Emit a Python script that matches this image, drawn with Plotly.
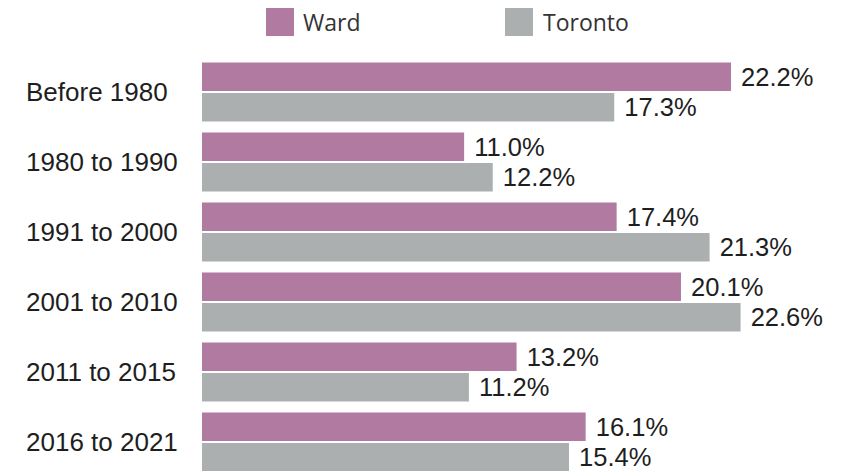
import plotly.graph_objects as go

categories = ["Before 1980", "1980 to 1990", "1991 to 2000", "2001 to 2010", "2011 to 2015", "2016 to 2021"]
ward = [22.2, 11.0, 17.4, 20.1, 13.2, 16.1]
toronto = [17.3, 12.2, 21.3, 22.6, 11.2, 15.4]
series_names = ["Ward", "Toronto"]
colors = ["#B07AA1", "#ABAFAF"]

W, H = 848, 471
ML, MT = 202, 57
PW, PH = W - ML, H - MT

FONT = "Liberation Sans, Arial, sans-serif"
TXT = "#1e1e1e"

fig = go.Figure()
for name, vals, col in zip(series_names, [ward, toronto], colors):
    fig.add_trace(go.Bar(
        name=name, y=categories, x=vals, orientation="h",
        marker=dict(color=col, line=dict(width=0)),
        texttemplate="\u00a0%{x:.1f}%", textposition="outside",
        textfont=dict(family=FONT, size=25.5, color=TXT),
        constraintext="none", cliponaxis=False,
        hoverinfo="skip",
    ))

# category labels, left aligned
for c in categories:
    fig.add_annotation(x=(24 - ML) / PW, xref="paper", y=c, yref="y",
                       text=c, showarrow=False, xanchor="left", yanchor="middle",
                       font=dict(family=FONT, size=26, color=TXT))

# legend drawn manually
leg_sq_x = [266, 505]
leg_txt_x = [303, 543]
def px_x(p):
    return (p - ML) / PW
def px_y(p):
    return (H - p) / PH
for name, col, sx, tx in zip(series_names, colors, leg_sq_x, leg_txt_x):
    fig.add_shape(type="rect", xref="paper", yref="paper",
                  x0=px_x(sx), x1=px_x(sx + 28), y0=px_y(36), y1=px_y(8),
                  fillcolor=col, line=dict(width=0))
    fig.add_annotation(x=px_x(tx - 2), xref="paper", y=px_y(22), yref="paper",
                       text=name, showarrow=False, xanchor="left", yanchor="middle",
                       font=dict(family="Open Sans, sans-serif", size=23, color="#333333"))

fig.update_layout(
    width=W, height=H,
    margin=dict(l=ML, r=0, t=MT, b=0, pad=0),
    barmode="group", bargap=0.129, bargroupgap=0.066,
    plot_bgcolor="white", paper_bgcolor="white",
    showlegend=False,
    xaxis=dict(range=[0, PW / 23.83], visible=False, fixedrange=True),
    yaxis=dict(range=[-0.5 + PH / 70.0, -0.5], showticklabels=False, showgrid=False,
               zeroline=False, showline=False, ticks="", fixedrange=True),
)

fig.write_html("out.html", config={"displayModeBar": False},
               post_script="document.body.style.margin='0';document.body.style.overflow='hidden';")
